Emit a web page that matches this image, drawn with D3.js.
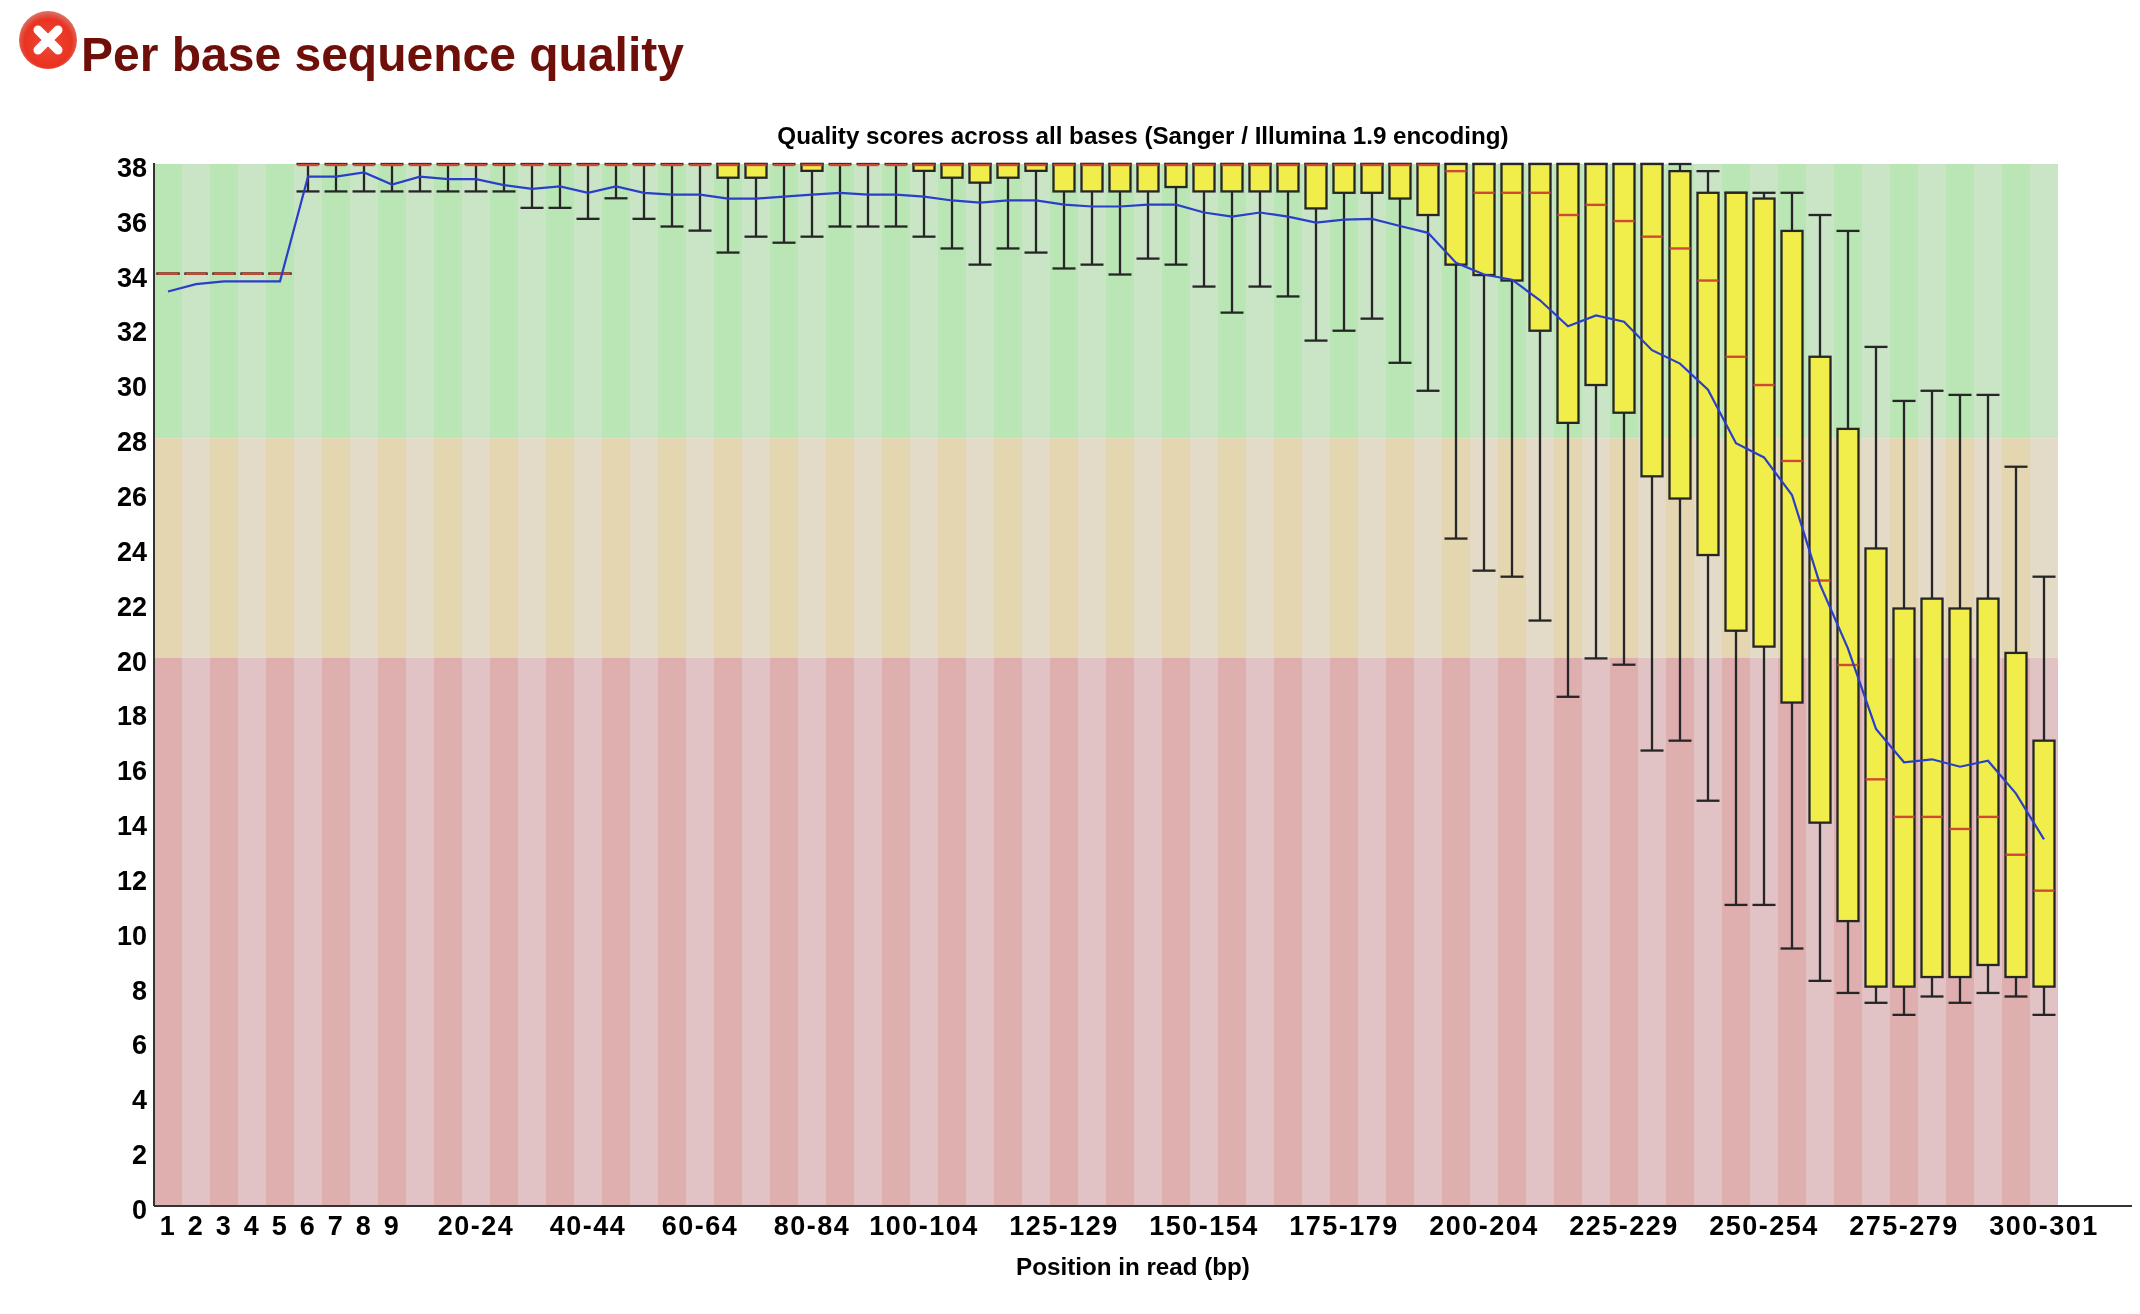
<!DOCTYPE html>
<html>
<head>
<meta charset="utf-8">
<script src="https://cdn.jsdelivr.net/npm/d3@7"></script>
<style>
    html, body { margin: 0; padding: 0; background: #fff; }
    text { font-family: "Liberation Sans", sans-serif; font-weight: bold; }
    /* the source is an upscaled screenshot, so everything is a little soft */
    #vis { filter: blur(0.6px); }
</style>
</head>
<body>
<svg id="vis" width="2140" height="1314"></svg>
<script>
    var svg = d3.select("#vis")
    var left = 154, right = 2058, top_y = 164, bottom = 1206, axis_end = 2132

    // label, 10th pct, lower quartile, median, upper quartile, 90th pct, mean
    var rows = [
        ["1", 34, 34, 34, 34, 34, 33.35],
        ["2", 34, 34, 34, 34, 34, 33.62],
        ["3", 34, 34, 34, 34, 34, 33.72],
        ["4", 34, 34, 34, 34, 34, 33.72],
        ["5", 34, 34, 34, 34, 34, 33.72],
        ["6", 37, 38, 38, 38, 38, 37.54],
        ["7", 37, 38, 38, 38, 38, 37.54],
        ["8", 37, 38, 38, 38, 38, 37.69],
        ["9", 37, 38, 38, 38, 38, 37.25],
        ["10-14", 37, 38, 38, 38, 38, 37.54],
        ["15-19", 37, 38, 38, 38, 38, 37.45],
        ["20-24", 37, 38, 38, 38, 38, 37.45],
        ["25-29", 37, 38, 38, 38, 38, 37.23],
        ["30-34", 36.4, 38, 38, 38, 38, 37.09],
        ["35-39", 36.4, 38, 38, 38, 38, 37.18],
        ["40-44", 36, 38, 38, 38, 38, 36.95],
        ["45-49", 36.75, 38, 38, 38, 38, 37.18],
        ["50-54", 36, 38, 38, 38, 38, 36.95],
        ["55-59", 35.72, 38, 38, 38, 38, 36.88],
        ["60-64", 35.57, 38, 38, 38, 38, 36.88],
        ["65-69", 34.77, 37.5, 38, 38, 38, 36.74],
        ["70-74", 35.35, 37.5, 38, 38, 38, 36.74],
        ["75-79", 35.13, 38, 38, 38, 38, 36.81],
        ["80-84", 35.35, 37.75, 38, 38, 38, 36.88],
        ["85-89", 35.72, 38, 38, 38, 38, 36.95],
        ["90-94", 35.72, 38, 38, 38, 38, 36.88],
        ["95-99", 35.72, 38, 38, 38, 38, 36.88],
        ["100-104", 35.35, 37.75, 38, 38, 38, 36.81],
        ["105-109", 34.92, 37.5, 38, 38, 38, 36.67],
        ["110-114", 34.33, 37.32, 38, 38, 38, 36.59],
        ["115-119", 34.92, 37.5, 38, 38, 38, 36.67],
        ["120-124", 34.77, 37.75, 38, 38, 38, 36.67],
        ["125-129", 34.19, 37, 38, 38, 38, 36.52],
        ["130-134", 34.33, 37, 38, 38, 38, 36.45],
        ["135-139", 33.97, 37, 38, 38, 38, 36.45],
        ["140-144", 34.55, 37, 38, 38, 38, 36.52],
        ["145-149", 34.33, 37.16, 38, 38, 38, 36.52],
        ["150-154", 33.53, 37, 38, 38, 38, 36.23],
        ["155-159", 32.58, 37, 38, 38, 38, 36.08],
        ["160-164", 33.53, 37, 38, 38, 38, 36.23],
        ["165-169", 33.17, 37, 38, 38, 38, 36.08],
        ["170-174", 31.56, 36.38, 38, 38, 38, 35.86],
        ["175-179", 31.92, 36.95, 38, 38, 38, 35.97],
        ["180-184", 32.36, 36.95, 38, 38, 38, 36],
        ["185-189", 30.75, 36.74, 38, 38, 38, 35.74],
        ["190-194", 29.73, 36.14, 38, 38, 38, 35.49],
        ["195-199", 24.34, 34.33, 37.74, 38, 38, 34.4],
        ["200-204", 23.17, 33.95, 36.95, 38, 38, 33.97],
        ["205-209", 22.95, 33.75, 36.95, 38, 38, 33.78],
        ["210-214", 21.35, 31.92, 36.95, 38, 38, 33.03],
        ["215-219", 18.57, 28.56, 36.14, 38, 38, 32.08],
        ["220-224", 19.97, 29.94, 36.51, 38, 38, 32.48],
        ["225-229", 19.74, 28.93, 35.92, 38, 38, 32.25],
        ["230-234", 16.61, 26.61, 35.35, 38, 38, 31.21],
        ["235-239", 16.97, 25.8, 34.92, 37.74, 38, 30.72],
        ["240-244", 14.78, 23.74, 33.75, 36.95, 37.74, 29.77],
        ["245-249", 10.98, 20.98, 30.97, 36.95, 36.95, 27.82],
        ["250-254", 10.98, 20.4, 29.94, 36.74, 36.95, 27.3],
        ["255-259", 9.39, 18.36, 27.17, 35.56, 36.95, 25.93],
        ["260-264", 8.21, 13.98, 22.81, 30.97, 36.14, 22.67],
        ["265-269", 7.77, 10.39, 19.73, 28.34, 35.56, 20.33],
        ["270-274", 7.41, 8, 15.56, 23.98, 31.33, 17.4],
        ["275-279", 6.97, 8, 14.19, 21.79, 29.36, 16.18],
        ["280-284", 7.64, 8.35, 14.19, 22.15, 29.73, 16.29],
        ["285-289", 7.41, 8.35, 13.75, 21.79, 29.58, 16.02],
        ["290-294", 7.77, 8.79, 14.19, 22.15, 29.58, 16.24],
        ["295-299", 7.64, 8.35, 12.81, 20.17, 26.96, 15.04],
        ["300-301", 6.97, 8, 11.5, 16.97, 22.95, 13.37]
    ]
    var data = rows.map(function(r) {
        return {label: r[0], low: r[1], q1: r[2], median: r[3], q3: r[4], high: r[5], mean: r[6]}
    })

    var x = d3.scaleBand().domain(data.map(d => d.label)).range([left, right])
    var y = d3.scaleLinear().domain([0, 38]).range([bottom, top_y])
    var mid = d => x(d.label) + x.bandwidth() / 2

    // background zones, dark and light stripes in turn
    var zones = [
        {from: 28, to: 38, dark: "#bae5b5", light: "#cae4c6"},
        {from: 20, to: 28, dark: "#e3d6b1", light: "#e3dbc7"},
        {from: 0, to: 20, dark: "#dfafb0", light: "#e1c3c6"}
    ]
    zones.forEach(function(z) {
        svg.append("g").selectAll("rect")
            .data(data)
            .join("rect")
            .attr("x", d => x(d.label))
            .attr("y", y(z.to))
            .attr("width", x.bandwidth())
            .attr("height", y(z.from) - y(z.to))
            .attr("fill", (d, i) => i % 2 == 0 ? z.dark : z.light)
    })

    var box_w = 21, cap_w = 23, ink = "#262626", ink_w = 2.3
    var marks = svg.append("g").selectAll("g").data(data).join("g")

    marks.append("line")
        .attr("x1", mid).attr("x2", mid)
        .attr("y1", d => y(d.high)).attr("y2", d => y(d.low))
        .attr("stroke", ink).attr("stroke-width", ink_w)
    marks.append("line")
        .attr("x1", d => mid(d) - cap_w / 2).attr("x2", d => mid(d) + cap_w / 2)
        .attr("y1", d => y(d.high)).attr("y2", d => y(d.high))
        .attr("stroke", ink).attr("stroke-width", ink_w)
    marks.append("line")
        .attr("x1", d => mid(d) - cap_w / 2).attr("x2", d => mid(d) + cap_w / 2)
        .attr("y1", d => y(d.low)).attr("y2", d => y(d.low))
        .attr("stroke", ink).attr("stroke-width", ink_w)
    marks.append("rect")
        .attr("x", d => mid(d) - box_w / 2)
        .attr("y", d => y(d.q3))
        .attr("width", box_w)
        .attr("height", d => y(d.q1) - y(d.q3))
        .attr("fill", "#f1ee4c")
        .attr("stroke", ink).attr("stroke-width", ink_w)
    marks.append("line")
        .attr("x1", d => mid(d) - cap_w / 2 + 1).attr("x2", d => mid(d) + cap_w / 2 - 1)
        .attr("y1", d => y(d.median) + (d.median == 38 ? 1 : 0))
        .attr("y2", d => y(d.median) + (d.median == 38 ? 1 : 0))
        .attr("stroke", "#cf4a33").attr("stroke-width", 2.4)

    var mean_line = d3.line().x(mid).y(d => y(d.mean))
    svg.append("path")
        .datum(data)
        .attr("d", mean_line)
        .attr("fill", "none")
        .attr("stroke", "#2a3fc9")
        .attr("stroke-width", 2.2)

    // axes
    var y_axis = d3.axisLeft(y).tickValues(d3.range(0, 39, 2)).tickSize(0).tickPadding(7)
    var y_g = svg.append("g").attr("transform", "translate(" + left + ",0)").call(y_axis)
    y_g.select(".domain").remove()
    y_g.selectAll("text")
        .attr("dy", "0.46em")
        .style("font-size", "27px")
        .attr("fill", "#000")

    var shown = ["1", "2", "3", "4", "5", "6", "7", "8", "9", "20-24", "40-44", "60-64", "80-84",
        "100-104", "125-129", "150-154", "175-179", "200-204", "225-229", "250-254", "275-279", "300-301"]
    var x_axis = d3.axisBottom(x).tickValues(shown).tickSize(0).tickPadding(10)
    var x_g = svg.append("g").attr("transform", "translate(0," + bottom + ")").call(x_axis)
    x_g.select(".domain").remove()
    x_g.selectAll("text")
        .style("font-size", "27px")
        .style("letter-spacing", "1.5px")
        .attr("fill", "#000")

    svg.append("line")
        .attr("x1", left).attr("x2", left)
        .attr("y1", top_y - 1).attr("y2", bottom)
        .attr("stroke", "#333").attr("stroke-width", 2)
    svg.append("line")
        .attr("x1", left).attr("x2", axis_end)
        .attr("y1", bottom).attr("y2", bottom)
        .attr("stroke", "#333").attr("stroke-width", 2)

    svg.append("text")
        .attr("x", 1143).attr("y", 144)
        .attr("text-anchor", "middle")
        .style("font-size", "24.2px")
        .text("Quality scores across all bases (Sanger / Illumina 1.9 encoding)")
    svg.append("text")
        .attr("x", 1133).attr("y", 1275)
        .attr("text-anchor", "middle")
        .style("font-size", "24.2px")
        .text("Position in read (bp)")

    // heading and error icon
    svg.append("text")
        .attr("x", 81).attr("y", 71)
        .attr("fill", "#6f0f0a")
        .style("font-size", "48px")
        .text("Per base sequence quality")

    var grad = svg.append("defs").append("radialGradient")
        .attr("id", "err").attr("cx", "50%").attr("cy", "55%").attr("r", "55%")
    grad.append("stop").attr("offset", "0%").attr("stop-color", "#ee4a33")
    grad.append("stop").attr("offset", "75%").attr("stop-color", "#ea3322")
    grad.append("stop").attr("offset", "100%").attr("stop-color", "#d9776c")
    var icon = svg.append("g").attr("transform", "translate(48,40)")
    icon.append("circle").attr("r", 29).attr("fill", "url(#err)")
    icon.append("path")
        .attr("d", "M-10,-10L10,10M10,-10L-10,10")
        .attr("stroke", "#fff")
        .attr("stroke-width", 9)
        .attr("stroke-linecap", "round")
</script>
</body>
</html>
